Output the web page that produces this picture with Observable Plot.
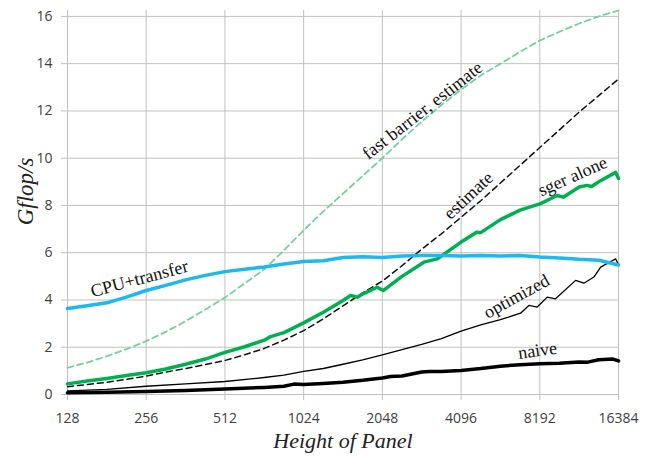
<!DOCTYPE html>
<html>
<head>
<meta charset="utf-8">
<script src="https://cdn.jsdelivr.net/npm/d3@7"></script>
<script src="https://cdn.jsdelivr.net/npm/@observablehq/plot@0.6"></script>
<style>
  html, body { margin: 0; padding: 0; background: #fff; }
</style>
</head>
<body>
<div id="chart"></div>
<script>
// Tick values
const xTicks = [128, 256, 512, 1024, 2048, 4096, 8192, 16384];
const yTicks = [0, 2, 4, 6, 8, 10, 12, 14, 16];

// Shared quarter-octave panel heights
const xGrid = [128, 152, 181, 215, 256, 304, 362, 431, 512, 609, 724, 861, 1024, 1218, 1448, 1722, 2048, 2435, 2896, 3444, 4096, 4871, 5793, 6889, 8192, 9742, 11585, 13777, 16384];

// CPU+transfer
const cpuY = [3.64, 3.76, 3.88, 4.12, 4.4, 4.62, 4.85, 5.04, 5.2, 5.3, 5.4, 5.52, 5.63, 5.66, 5.8, 5.83, 5.8, 5.86, 5.88, 5.88, 5.86, 5.88, 5.86, 5.88, 5.82, 5.78, 5.72, 5.68, 5.48];

// fast barrier, estimate
const fastY = [1.13, 1.35, 1.62, 1.92, 2.26, 2.65, 3.1, 3.6, 4.1, 4.7, 5.3, 6.1, 6.95, 7.75, 8.5, 9.25, 10.0, 10.8, 11.55, 12.25, 12.9, 13.5, 14.0, 14.5, 14.98, 15.35, 15.7, 16.0, 16.25];

// estimate
const estY = [0.33, 0.42, 0.52, 0.64, 0.78, 0.95, 1.1, 1.27, 1.44, 1.68, 1.95, 2.3, 2.7, 3.2, 3.75, 4.3, 4.8, 5.45, 6.15, 6.8, 7.5, 8.2, 8.95, 9.7, 10.45, 11.2, 11.95, 12.65, 13.35];

// sger alone
const sgerX = [128, 152, 181, 215, 256, 304, 362, 431, 512, 609, 724, 765, 861, 1024, 1218, 1448, 1548, 1644, 1722, 1957, 2063, 2435, 2951, 3325, 4096, 4700, 4871, 5793, 6889, 8250, 9540, 10080, 11585, 12410, 12930, 13777, 15970, 16384];
const sgerY = [0.45, 0.57, 0.68, 0.8, 0.92, 1.08, 1.28, 1.5, 1.78, 2.02, 2.3, 2.45, 2.62, 3.03, 3.48, 3.98, 4.19, 4.12, 4.25, 4.54, 4.4, 5.0, 5.6, 5.74, 6.45, 6.87, 6.85, 7.4, 7.8, 8.08, 8.42, 8.35, 8.78, 8.85, 8.8, 9.0, 9.4, 9.14];

// optimized
const optX = [128, 181, 256, 362, 512, 724, 861, 1024, 1218, 1448, 1722, 2048, 2435, 2896, 3444, 4096, 4871, 5793, 6917, 7440, 8010, 8750, 9410, 11230, 12080, 13190, 14000, 15970, 16384];
const optY = [0.15, 0.22, 0.35, 0.45, 0.55, 0.72, 0.82, 0.98, 1.1, 1.28, 1.47, 1.68, 1.9, 2.12, 2.36, 2.68, 2.95, 3.17, 3.44, 3.77, 3.7, 4.12, 4.05, 4.83, 4.71, 4.97, 5.39, 5.74, 5.5];

// naive
const naiveX = [128, 181, 256, 362, 512, 724, 861, 940, 1024, 1218, 1448, 1722, 2048, 2200, 2435, 2896, 3100, 3444, 4096, 4871, 5793, 6889, 8192, 9742, 11585, 12500, 13777, 15600, 16384];
const naiveY = [0.07, 0.1, 0.13, 0.17, 0.23, 0.3, 0.35, 0.44, 0.42, 0.47, 0.52, 0.6, 0.7, 0.76, 0.78, 0.95, 0.97, 0.97, 1.02, 1.1, 1.2, 1.26, 1.3, 1.32, 1.38, 1.37, 1.47, 1.5, 1.42];

// Series labels
const labelText = ["CPU+transfer", "fast barrier, estimate", "estimate", "sger alone", "optimized", "naive"];
const labelX = [241, 2916, 4373, 10940, 6676, 8030];
const labelY = [4.9, 12.02, 8.42, 9.23, 4.15, 1.86];
const labelRot = [-15, -38, -43, -24, -29, -8];

const pts = (xs, ys) => xs.map((x, i) => ({x, y: ys[i]}));
const labels = labelText.map((t, i) => ({text: t, x: labelX[i], y: labelY[i], r: labelRot[i]}));

const serif = "'Liberation Serif', 'Times New Roman', serif";

const chart = Plot.plot({
  width: 654,
  height: 456,
  marginLeft: 67,
  marginRight: 36,
  marginTop: 10,
  marginBottom: 62,
  x: {type: "log", base: 2, domain: [128, 16384]},
  y: {domain: [0, 16.25]},
  style: {fontFamily: "'Open Sans', sans-serif", fontSize: "14px", background: "#fff", overflow: "visible"},
  marks: [
    Plot.gridX(xTicks, {stroke: "#c0c0c0", strokeOpacity: 1}),
    Plot.gridY(yTicks, {stroke: "#c0c0c0", strokeOpacity: 1}),
    Plot.axisX(xTicks, {tickSize: 6, tickPadding: 13, stroke: "#c0c0c0", fill: "#404040", tickFormat: d => String(d), label: null}),
    Plot.axisY(yTicks, {tickSize: 6, tickPadding: 9, stroke: "#c0c0c0", fill: "#404040", tickFormat: d => String(d), label: null}),
    Plot.line(pts(xGrid, fastY), {x: "x", y: "y", stroke: "#74d0a0", strokeWidth: 1.8, strokeDasharray: "6,4"}),
    Plot.line(pts(xGrid, estY), {x: "x", y: "y", stroke: "#111", strokeWidth: 1.5, strokeDasharray: "6,4"}),
    Plot.line(pts(naiveX, naiveY), {x: "x", y: "y", stroke: "#000", strokeWidth: 3.5}),
    Plot.line(pts(optX, optY), {x: "x", y: "y", stroke: "#000", strokeWidth: 1.3}),
    Plot.line(pts(sgerX, sgerY), {x: "x", y: "y", stroke: "#00b050", strokeWidth: 3.5}),
    Plot.line(pts(xGrid, cpuY), {x: "x", y: "y", stroke: "#1cb8ee", strokeWidth: 3.5}),
    Plot.text(labels, {x: "x", y: "y", text: "text", rotate: "r", fontFamily: serif, fontSize: 18, fill: "#111"}),
    Plot.text(["Height of Panel"], {text: d => d, frameAnchor: "bottom", textAnchor: "middle", dy: 53, fontFamily: serif, fontStyle: "italic", fontSize: 22, fill: "#222", style: "letter-spacing:0.5px"}),
    Plot.text(["Gflop/s"], {text: d => d, frameAnchor: "left", textAnchor: "middle", dx: -42, dy: -11, rotate: -90, fontFamily: serif, fontStyle: "italic", fontSize: 23, fill: "#222", style: "letter-spacing:1px"})
  ]
});
document.getElementById("chart").appendChild(chart);
</script>
</body>
</html>
